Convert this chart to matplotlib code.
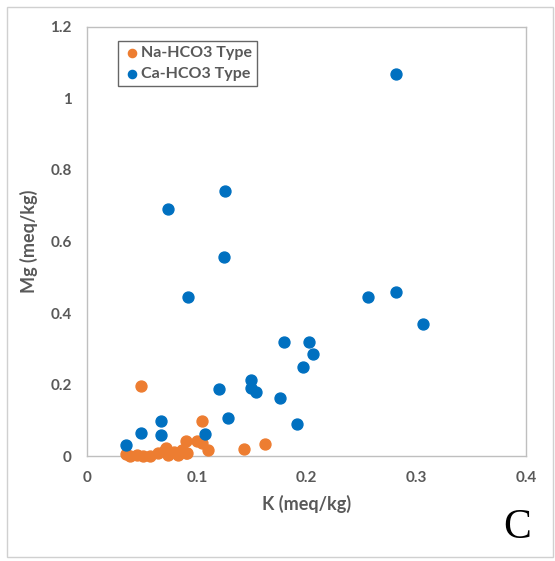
import matplotlib.pyplot as plt
from matplotlib.patches import Rectangle

# Na-HCO3 type samples
na_k = [0.049, 0.105, 0.090, 0.100, 0.105, 0.110, 0.143, 0.162, 0.090, 0.072,
        0.035, 0.039, 0.045, 0.051, 0.057, 0.065, 0.071, 0.074, 0.079, 0.083,
        0.086, 0.091]
na_mg = [0.197, 0.099, 0.043, 0.043, 0.037, 0.016, 0.019, 0.034, 0.010, 0.024,
         0.005, 0.000, 0.003, 0.000, 0.001, 0.008, 0.017, 0.003, 0.012, 0.003,
         0.017, 0.008]

# Ca-HCO3 type samples
ca_k = [0.281, 0.126, 0.074, 0.125, 0.092, 0.256, 0.281, 0.306, 0.179, 0.202,
        0.206, 0.197, 0.120, 0.149, 0.149, 0.154, 0.176, 0.128, 0.067, 0.049,
        0.067, 0.107, 0.0355, 0.191]
ca_mg = [1.068, 0.740, 0.690, 0.558, 0.445, 0.444, 0.460, 0.370, 0.320, 0.320,
         0.285, 0.248, 0.188, 0.213, 0.190, 0.180, 0.163, 0.107, 0.099, 0.065,
         0.058, 0.062, 0.030, 0.090]

xticks = [0, 0.1, 0.2, 0.3, 0.4]
yticks = [0, 0.2, 0.4, 0.6, 0.8, 1, 1.2]

grey = "#595959"
plt.rcParams['font.family'] = ['Lato', 'DejaVu Sans']

fig = plt.figure(figsize=(5.55, 5.61), dpi=100)
fig.patches.append(Rectangle((0.013, 0.008), 0.984, 0.98, transform=fig.transFigure,
                             fill=False, edgecolor="#d0d0d0", lw=1))
ax = fig.add_axes([0.157, 0.187, 0.791, 0.765])

ax.scatter(na_k, na_mg, s=62, color="#ED7D31", label="Na-HCO3 Type", zorder=3, clip_on=False)
ax.scatter(ca_k, ca_mg, s=62, color="#0070C0", label="Ca-HCO3 Type", zorder=3, clip_on=False)

ax.set_xlim(0, 0.4)
ax.set_ylim(0, 1.2)
ax.set_xticks(xticks)
ax.set_xticklabels(["0", "0.1", "0.2", "0.3", "0.4"])
ax.set_yticks(yticks)
ax.set_yticklabels(["0", "0.2", "0.4", "0.6", "0.8", "1", "1.2"])
ax.tick_params(length=0, labelsize=11, colors=grey, pad=11)
for t in ax.get_xticklabels() + ax.get_yticklabels():
    t.set_fontweight("bold")
for s in ax.spines.values():
    s.set_color("#bfbfbf")
    s.set_linewidth(1)

ax.set_xlabel("K (meq/kg)", fontsize=13, fontweight="bold", color=grey, labelpad=7)
ax.set_ylabel("Mg (meq/kg)", fontsize=13, fontweight="bold", color=grey, labelpad=9)

leg = ax.legend(loc="upper left", bbox_to_anchor=(0.06, 0.978), fontsize=11.5,
                frameon=True, fancybox=False, edgecolor="#404040", handletextpad=0.05,
                borderpad=0.3, labelspacing=0.42, markerscale=0.75, handlelength=1.1,
                borderaxespad=0.3)
leg.get_frame().set_linewidth(1)
for t in leg.get_texts():
    t.set_color(grey)
    t.set_fontweight("bold")

fig.text(0.932, 0.06, "C", fontsize=30, family="Liberation Serif", ha="center", va="center")

fig.savefig("out.png", dpi=100)
